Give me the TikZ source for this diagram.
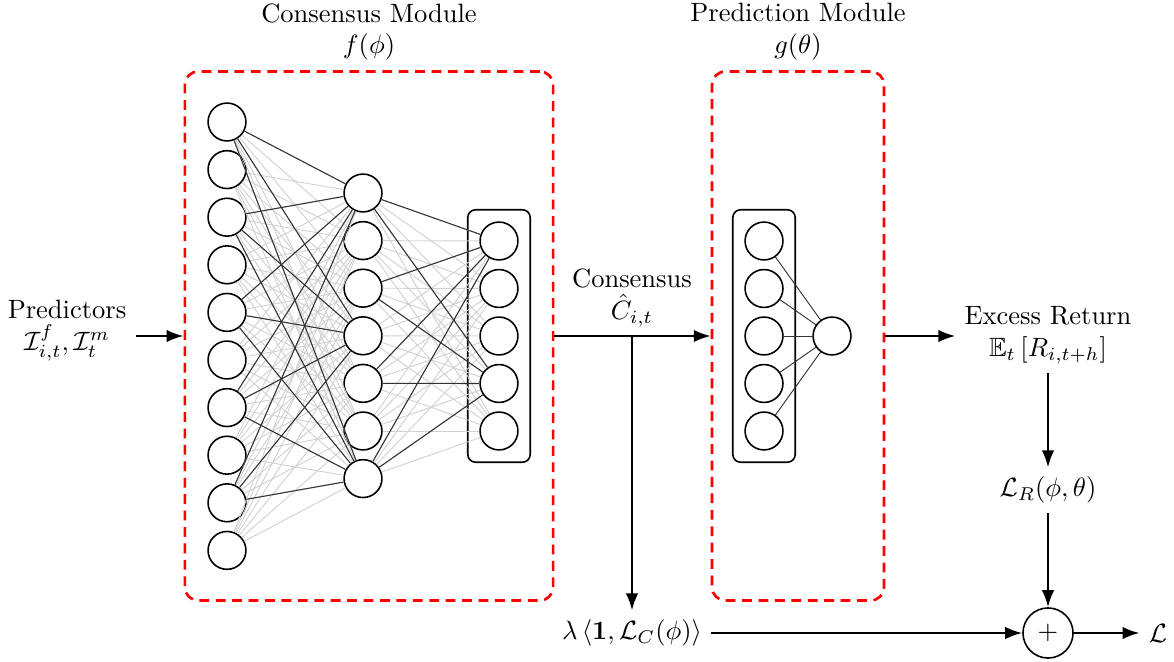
\documentclass[tikz,border=0pt]{standalone}
\usepackage{amsmath, amssymb}
\usetikzlibrary{arrows.meta, fit}

\begin{document}
\begin{tikzpicture}[x=0.3775pt,y=0.3775pt,yscale=-1,xscale=1,
    neuron/.style={circle, draw, line width=0.6pt, fill=white, minimum size=14.3pt, inner sep=0pt},
    module/.style={draw=red, line width=1pt, dash pattern=on 3.7pt off 2.5pt, rounded corners=5pt, minimum height=199.7pt},
    layerbox/.style={draw, line width=0.6pt, rounded corners=3pt, inner sep=4.35pt},
    lightedge/.style={draw=black!18, line width=0.35pt},
    darkedge/.style={draw=black!80, line width=0.4pt},
    arr/.style={-{Latex[length=6.4pt,width=4.7pt]}, line width=0.8pt}]
    \useasboundingbox (0,0) rectangle (1174,662);

    %Shape: dashed modules
    \node [module, minimum width=139pt] (cmod) at (369,336) {};
    \node [module, minimum width=64.9pt] (pmod) at (798,336) {};
    % Text Node
    \node [align=center] (ctitle) at (369,32) {Consensus Module\\$f(\phi)$};
    \node [align=center] (ptitle) at (798,32) {Prediction Module\\$g(\theta)$};

    %Shape: consensus network
    \foreach \i in {1,...,10}
        \node [neuron] (a\i) at (227,{122+47.6*(\i-1)}) {};
    \foreach \j in {1,...,7}
        \node [neuron] (b\j) at (363,{193+47.6*(\j-1)}) {};
    \foreach \k in {1,...,5}
        \node [neuron] (c\k) at (499,{241+47.5*(\k-1)}) {};
    \node [layerbox, fit=(c1)(c5)] (cbox) {};
    \foreach \i in {1,...,10}
        \foreach \j in {1,...,7}
            \draw [lightedge] (a\i) -- (b\j);
    \foreach \j in {1,...,7}
        \foreach \k in {1,...,5}
            \draw [lightedge] (b\j) -- (c\k);
    \foreach \i in {1,3,...,9}
        \foreach \j in {1,4,7}
            \draw [darkedge] (a\i) -- (b\j);
    \foreach \j in {1,3,5,7}
        \foreach \k in {1,4}
            \draw [darkedge] (b\j) -- (c\k);

    %Shape: prediction network
    \foreach \k in {1,...,5}
        \node [neuron] (p\k) at (764,{241+47.5*(\k-1)}) {};
    \node [layerbox, fit=(p1)(p5)] (pbox) {};
    \node [neuron] (out) at (832,336) {};
    \foreach \k in {1,...,5}
        \draw [darkedge, line width=0.35pt] (p\k) -- (out);

    % Text Node
    \node [align=center] (pred) at (67,331) {Predictors\\$\mathcal{I}^{f}_{i,t},\mathcal{I}^{m}_{t}$};
    \coordinate (split) at (632,336);
    \node [align=center, anchor=south] (clabel) at (split) {Consensus\\$\hat{C}_{i,t}$};
    \node [align=center] (exc) at (1048,335) {Excess Return\\$\mathbb{E}_{t}\left[R_{i,t+h}\right]$};
    \node (lr) at (1048,490) {$\mathcal{L}_{R}(\phi,\theta)$};
    \node (lam) at (632,633) {$\lambda\left\langle \mathbf{1},\mathcal{L}_{C}(\phi)\right\rangle$};
    \node [neuron, minimum size=18.9pt] (plus) at (1048,633) {$+$};
    \node (loss) at (1158,633) {$\mathcal{L}$};

    %Arrows
    \draw [arr] (pred.east |- cmod.west) -- (cmod.west);
    \draw [arr] (cmod.east) -- (pmod.west);
    \draw [arr] (split) -- (lam.north);
    \draw [arr] (pmod.east) -- (exc.west |- pmod.east);
    \draw [arr] (exc.south) -- (lr.north);
    \draw [arr] (lr.south) -- (plus.north);
    \draw [arr] (lam.east |- plus.west) -- (plus.west);
    \draw [arr] (plus.east) -- (loss.west |- plus.east);
\end{tikzpicture}
\end{document}
